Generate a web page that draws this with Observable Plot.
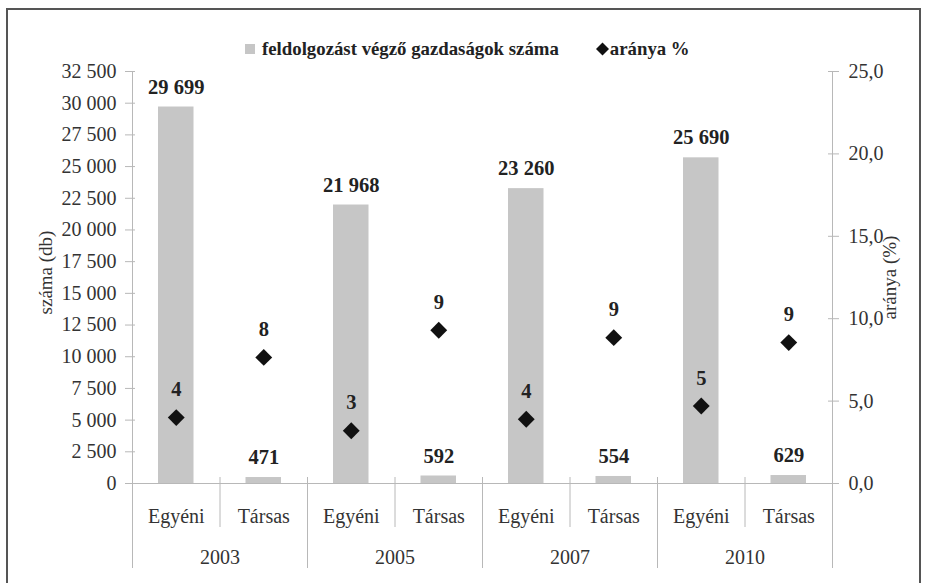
<!DOCTYPE html>
<html><head><meta charset="utf-8">
<script src="https://cdn.jsdelivr.net/npm/d3@7"></script>
<script src="https://cdn.jsdelivr.net/npm/@observablehq/plot@0.6"></script>
<style>
body{margin:0;background:#fff;}
#wrap{position:relative;width:927px;height:583px;overflow:hidden;font-family:"Liberation Serif","Times New Roman",Tinos,serif;}
#frame{position:absolute;left:6px;top:8px;width:915px;height:640px;border:2px solid #555;box-sizing:border-box;}
#legend{position:absolute;top:39px;left:245px;height:20px;display:flex;align-items:center;font-weight:bold;font-size:18.8px;color:#222;white-space:nowrap;}
#legend .sq{display:inline-block;width:10px;height:10px;background:#c6c6c6;margin-right:7px;}
#legend svg{margin-left:37px;margin-right:1px;}
#chart{position:absolute;left:0;top:0;}
#chart svg, #chart svg text{font-family:"Liberation Serif","Times New Roman",Tinos,serif !important;}
</style></head><body>
<div id="wrap"><div id="frame"></div><div id="chart"></div><div id="legend"></div></div>
<script>
const years = ["2003", "2005", "2007", "2010"];
const types = ["Egyéni", "Társas"];
const counts = [29699, 471, 21968, 592, 23260, 554, 25690, 629];
const shares = [4.0, 7.65, 3.2, 9.3, 3.9, 8.85, 4.7, 8.55];
const leftTicks = [0, 2500, 5000, 7500, 10000, 12500, 15000, 17500, 20000, 22500, 25000, 27500, 30000, 32500];
const rightTicks = [0, 5, 10, 15, 20, 25];
const seriesNames = ["feldolgozást végző gazdaságok száma", "aránya %"];
const axisTitles = ["száma (db)", "aránya (%)"];

const rows = years.flatMap((yr, yi) => types.map((t, ti) => {
  const i = yi * types.length + ti;
  return {i, year: yr, type: t, count: counts[i], share: shares[i]};
}));
const nCat = rows.length;
const leftMax = leftTicks[leftTicks.length - 1];
const rightMax = rightTicks[rightTicks.length - 1];
const factor = leftMax / rightMax;
const fmt = v => d3.format(",")(v).replace(/,/g, " ");
const gridGray = "#b8b8b8";
const textGray = "#333";
const serif = "Liberation Serif, Times New Roman, serif";

const typeTicks = rows.map(r => r.i + 0.5);
const yearTicks = years.map((y, yi) => yi * types.length + types.length / 2);
const shortSeps = d3.range(1, nCat).filter(k => k % types.length !== 0);
const longSeps = d3.range(0, nCat + 1, types.length);
const allInner = d3.range(1, nCat);

const chart = Plot.plot({
  width: 927, height: 583,
  marginTop: 71, marginBottom: 100, marginLeft: 132, marginRight: 95,
  style: {fontFamily: serif, fontSize: "20px", color: textGray, background: "transparent"},
  x: {type: "linear", domain: [0, nCat], axis: null},
  y: {domain: [0, leftMax], axis: null},
  marks: [
    Plot.rectY(rows, {x1: "i", x2: d => d.i + 1, y: "count", fill: "#c6c6c6", insetLeft: 26, insetRight: 26}),
    Plot.ruleX([0, nCat], {stroke: gridGray, strokeWidth: 1}),
    Plot.ruleY([0], {stroke: gridGray, strokeWidth: 1}),
    Plot.axisX(shortSeps, {tickSize: 44, tickFormat: () => "", stroke: gridGray, label: null}),
    Plot.axisX(longSeps, {tickSize: 85, tickFormat: () => "", stroke: gridGray, label: null}),
    Plot.axisX(allInner, {tickSize: -6, tickFormat: () => "", stroke: gridGray, label: null}),
    Plot.axisX(typeTicks, {tickSize: 0, tickPadding: 25, tickFormat: v => rows[Math.floor(v)].type, fill: textGray, fontFamily: serif, fontSize: 20, label: null}),
    Plot.axisX(yearTicks, {tickSize: 0, tickPadding: 66, tickFormat: v => years[Math.floor(v / types.length)], fill: textGray, fontFamily: serif, fontSize: 20, label: null}),
    Plot.axisY(leftTicks, {anchor: "left", tickSize: 7, tickPadding: 9, tickFormat: fmt, stroke: gridGray, fill: textGray, fontFamily: serif, fontSize: 20, label: null}),
    Plot.axisY(leftTicks, {anchor: "left", tickSize: -3, tickFormat: () => "", stroke: gridGray, label: null}),
    Plot.axisY(rightTicks.map(v => v * factor), {anchor: "right", tickSize: 6, tickPadding: 10, tickFormat: v => (v / factor).toFixed(1).replace(".", ","), stroke: gridGray, fill: textGray, fontFamily: serif, fontSize: 20, label: null}),
    Plot.axisY(rightTicks.map(v => v * factor), {anchor: "right", tickSize: -5, tickFormat: () => "", stroke: gridGray, label: null}),
    Plot.text([axisTitles[0]], {frameAnchor: "left", textAnchor: "middle", dx: -87, dy: -5, rotate: -90, text: d => d, fontSize: 19, fontFamily: serif, fill: textGray}),
    Plot.text([axisTitles[1]], {frameAnchor: "right", textAnchor: "middle", dx: 57, dy: 0, rotate: -90, text: d => d, fontSize: 19, fontFamily: serif, fill: textGray}),
    Plot.text(rows, {x: d => d.i + 0.5, y: "count", text: d => fmt(d.count), dy: -20, fontWeight: "bold", fontSize: 20.5, fontFamily: serif, fill: "#222"}),
    Plot.dot(rows, {x: d => d.i + 0.5, y: d => d.share * factor, symbol: "diamond2", r: 7.6, fill: "#111", stroke: "none"}),
    Plot.text(rows, {x: d => d.i + 0.5, y: d => d.share * factor, text: d => String(Math.round(d.share)), dy: -28, fontWeight: "bold", fontSize: 20.5, fontFamily: serif, fill: "#222"})
  ]
});
document.getElementById("chart").appendChild(chart);

const legend = document.getElementById("legend");
legend.innerHTML = `<span class="sq"></span><span>${seriesNames[0]}</span>` +
  `<svg width="13" height="14" viewBox="-6.5 -7 13 14"><path d="M0,-6.5L6.5,0L0,6.5L-6.5,0Z" fill="#111"/></svg><span>${seriesNames[1]}</span>`;
</script>
</body></html>
